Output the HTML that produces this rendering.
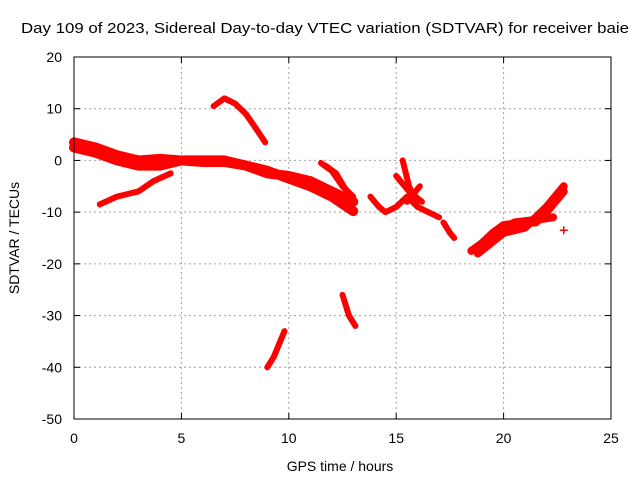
<!DOCTYPE html>
<html><head><meta charset="utf-8"><style>body{margin:0;background:#fff}svg{display:block;font-family:"Liberation Sans",sans-serif}</style></head>
<body>
<svg id="c" width="640" height="480" xmlns="http://www.w3.org/2000/svg">
<text x="325" y="33" text-anchor="middle" font-size="15" textLength="608" lengthAdjust="spacingAndGlyphs">Day 109 of 2023, Sidereal Day-to-day VTEC variation (SDTVAR) for receiver baie</text>
<g id="grid"></g><g id="marks"></g><g id="axes"></g>
<text x="340" y="471" text-anchor="middle" font-size="14">GPS time / hours</text>
<text transform="translate(19,238) rotate(-90)" text-anchor="middle" font-size="14">SDTVAR / TECUs</text>
</svg>
<script>
const xTicks=[0,5,10,15,20,25];
const yTicks=[20,10,0,-10,-20,-30,-40,-50];
const segHours=[
 [0,1,2,3,4,5,6,7,8,9,10,11,12,13],
 [0,1,2,3,4,5,6,7,8,9,10,11,12,13],
 [1.2,2,3,3.7,4.5],
 [6.5,7,7.5,8,8.5,8.9],
 [11.5,12,12.5,13],
 [11.7,12.2,12.7,12.9],
 [13.8,14.2,14.5,15,15.5,16,16.5,17],
 [15.3,15.6,16],
 [15,15.6,16.2],
 [15.5,16.1],
 [17.2,17.5,17.7],
 [18.5,19,19.5,20,21,21.5,22,22.8],
 [18.8,20,21,22,22.8],
 [19.5,20.5,21.5,22.3],
 [9,9.3,9.8],
 [12.5,12.8,13.1]
];
const segValues=[
 [3.5,2.5,1,0,0.3,0,-0.3,-0.3,-1,-2,-3.5,-5,-7,-9.8],
 [2.5,1.5,0,-1,-1,0,0,0,-1,-2.5,-3,-4,-6,-8],
 [-8.5,-7,-6,-4,-2.5],
 [10.5,12,11,9,6,3.5],
 [-0.5,-2,-5,-7],
 [-1,-2.5,-6,-7.5],
 [-7,-9,-10,-9,-7,-9,-10,-11],
 [0,-5,-9],
 [-3,-6,-8],
 [-8,-5],
 [-12,-14,-15],
 [-17.5,-16,-14,-12.5,-12,-12,-10,-6],
 [-18,-14,-13,-9,-5],
 [-15,-12,-11.5,-11],
 [-40,-38,-33],
 [-26,-30,-32]
];
const singleHours=[22.8], singleValues=[-13.5];
const X0=74,X1=611,Y0=419,Y1=57;
const xs=h=>X0+h/25*(X1-X0);
const ys=v=>Y0-(v+50)/70*(Y0-Y1);
const NS="http://www.w3.org/2000/svg";
function mk(t,a,p){const e=document.createElementNS(NS,t);for(const k in a)e.setAttribute(k,a[k]);p.appendChild(e);return e;}
const grid=document.getElementById('grid'),axes=document.getElementById('axes'),marks=document.getElementById('marks');
xTicks.forEach(t=>{const x=xs(t);
 if(t>0&&t<25){const l=mk('line',{x1:x,x2:x,y1:Y1,y2:Y0,stroke:'#a0a0a0','stroke-dasharray':'2,3'},grid);
 
 }
 mk('line',{x1:x,x2:x,y1:Y0,y2:Y0-6,stroke:'#000'},axes);
 mk('line',{x1:x,x2:x,y1:Y1,y2:Y1+6,stroke:'#000'},axes);
 const tx=mk('text',{x:x,y:Y0+24,'text-anchor':'middle','font-size':14},axes);tx.textContent=t;
 
 });
yTicks.forEach(t=>{const y=ys(t);
 if(t>-50&&t<20){const l=mk('line',{x1:X0,x2:X1,y1:y,y2:y,stroke:'#a0a0a0','stroke-dasharray':'2,3'},grid);
 
 }
 mk('line',{x1:X0,x2:X0+6,y1:y,y2:y,stroke:'#000'},axes);
 mk('line',{x1:X1,x2:X1-6,y1:y,y2:y,stroke:'#000'},axes);
 const tx=mk('text',{x:X0-12,y:y+5,'text-anchor':'end','font-size':14},axes);tx.textContent=t;
 
 });
const fr=mk('rect',{x:X0,y:Y1,width:X1-X0,height:Y0-Y1,fill:'none',stroke:'#000'},axes);


segHours.forEach((hs,i)=>{const pts=hs.map((h,j)=>xs(h)+','+ys(segValues[i][j])).join(' ');
 const p=mk('polyline',{points:pts,fill:'none',stroke:'#f00','stroke-width':(i<2?10:(i>=11&&i<=13?8:6)),'stroke-linejoin':'round','stroke-linecap':'round'},marks);
 
 });
singleHours.forEach((h,i)=>{const x=xs(h),y=ys(singleValues[i]);
 const p=mk('path',{d:`M${x-4},${y}H${x+4}M${x},${y-4}V${y+4}`,stroke:'#f00','stroke-width':1.5},marks);
 
 });
</script>
</body></html>
